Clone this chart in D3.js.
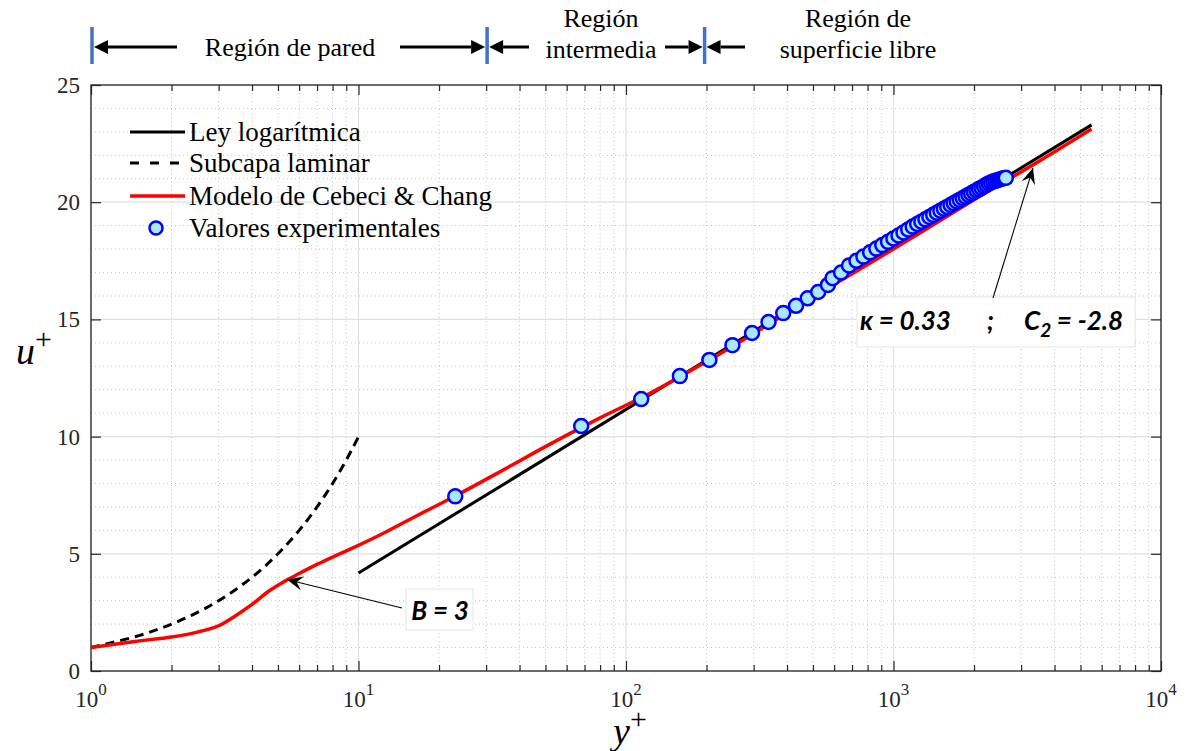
<!DOCTYPE html>
<html><head><meta charset="utf-8">
<script src="https://cdn.jsdelivr.net/npm/d3@7"></script>
<style>body{margin:0;background:#fff}svg{display:block}</style>
</head><body>
<svg id="c" width="1186" height="751"></svg>
<script>
// ---------- data ----------
const xMajor = [1, 10, 100, 1000, 10000];
const xMinor = [2,3,4,5,6,7,8,9,20,30,40,50,60,70,80,90,200,300,400,500,600,700,800,900,2000,3000,4000,5000,6000,7000,8000,9000];
const xTickExp = ["0","1","2","3","4"];
const yMajor = [0, 5, 10, 15, 20, 25];
const yMinor = [1,2,3,4,6,7,8,9,11,12,13,14,16,17,18,19,21,22,23,24];
const yTickLabels = ["0","5","10","15","20","25"];

const logLawY = [10, 5500];
const logLawU = [4.18, 23.3];

const lamY = [1,1.5,2,2.5,3,3.5,4,4.5,5,5.5,6,6.5,7,7.5,8,8.5,9,9.5,10];
const lamU = [1,1.5,2,2.5,3,3.5,4,4.5,5,5.5,6,6.5,7,7.5,8,8.5,9,9.5,10];

const ccY = [1, 1.46, 2.0, 2.5, 3.0, 3.45, 4.0, 4.6, 5.3, 6.0, 7.06, 8.0, 9.4, 12.5, 14.3, 17, 22, 33.8, 52, 80, 123, 200, 300, 500, 1000, 2000, 3500, 5500];
const ccU = [1.0, 1.26, 1.45, 1.66, 1.93, 2.34, 2.84, 3.39, 3.83, 4.16, 4.57, 4.86, 5.22, 5.9, 6.25, 6.7, 7.35, 8.5, 9.68, 10.8, 11.85, 13.2, 14.4, 15.95, 18.0, 20.1, 21.75, 23.12];

const expY = [23,68,114,159,205,250,296,341,387,432,478,523,569,592,637,682,727,772,818,863,908,954,999,1044,1090,1135,1180,1226,1271,1316,1362,1407,1452,1498,1543,1588,1634,1679,1724,1770,1815,1860,1906,1951,1996,2042,2087,2132,2178,2223,2268,2314,2359,2404,2450,2495,2540,2586,2630];
const expU = [7.45,10.45,11.6,12.58,13.27,13.9,14.42,14.89,15.27,15.58,15.9,16.17,16.47,16.76,17.0,17.3,17.5,17.68,17.86,18.02,18.17,18.31,18.45,18.58,18.71,18.84,18.96,19.07,19.17,19.27,19.37,19.46,19.55,19.64,19.72,19.8,19.88,19.96,20.03,20.1,20.17,20.24,20.31,20.37,20.44,20.5,20.56,20.62,20.68,20.74,20.8,20.84,20.88,20.91,20.94,20.97,21.0,21.02,21.04];

const regionBounds = [1, 30, 195];

// ---------- setup ----------
const svg = d3.select("#c");
const L = 91, R = 1161, T = 85, B = 671;
const x = d3.scaleLog().domain([1, 1e4]).range([L, R]);
const y = d3.scaleLinear().domain([0, 25]).range([B, T]);
const serif = "'Liberation Serif','Times New Roman',serif";
const annFont = "Lato,'Open Sans',sans-serif";

// grid
const g = svg.append("g");
g.selectAll(".gxm").data(xMinor).join("line")
  .attr("x1", d => x(d)).attr("x2", d => x(d)).attr("y1", T).attr("y2", B)
  .attr("stroke", "#c4c4c4").attr("stroke-width", 1).attr("stroke-dasharray", "1,3");
g.selectAll(".gym").data(yMinor).join("line")
  .attr("x1", L).attr("x2", R).attr("y1", d => y(d)).attr("y2", d => y(d))
  .attr("stroke", "#c4c4c4").attr("stroke-width", 1).attr("stroke-dasharray", "1,3");
g.selectAll(".gxM").data(xMajor).join("line")
  .attr("x1", d => x(d)).attr("x2", d => x(d)).attr("y1", T).attr("y2", B)
  .attr("stroke", "#e0e0e0").attr("stroke-width", 1.2);
g.selectAll(".gyM").data(yMajor).join("line")
  .attr("x1", L).attr("x2", R).attr("y1", d => y(d)).attr("y2", d => y(d))
  .attr("stroke", "#e0e0e0").attr("stroke-width", 1.2);

// axes (ticks inside)
function styleAxis(sel){ sel.selectAll("path").remove(); sel.selectAll("line").attr("stroke","#262626").attr("stroke-width",1.2); sel.selectAll("text").remove(); }
svg.append("g").attr("transform",`translate(0,${B})`).call(d3.axisBottom(x).tickValues(xMajor).tickSize(-10)).call(styleAxis);
svg.append("g").attr("transform",`translate(0,${B})`).call(d3.axisBottom(x).tickValues(xMinor).tickSize(-6)).call(styleAxis);
svg.append("g").attr("transform",`translate(0,${T})`).call(d3.axisTop(x).tickValues(xMajor).tickSize(-10)).call(styleAxis);
svg.append("g").attr("transform",`translate(0,${T})`).call(d3.axisTop(x).tickValues(xMinor).tickSize(-6)).call(styleAxis);
svg.append("g").attr("transform",`translate(${L},0)`).call(d3.axisLeft(y).tickValues(yMajor).tickSize(-10)).call(styleAxis);
svg.append("g").attr("transform",`translate(${R},0)`).call(d3.axisRight(y).tickValues(yMajor).tickSize(-10)).call(styleAxis);

// box
svg.append("rect").attr("x", L).attr("y", T).attr("width", R-L).attr("height", B-T)
  .attr("fill","none").attr("stroke","#262626").attr("stroke-width",1.3);

// tick labels
const xl = svg.append("g").attr("font-family", serif).attr("fill","#262626");
xMajor.forEach((v,i) => {
  const t = xl.append("text").attr("x", x(v)).attr("y", 707).attr("text-anchor","middle").attr("font-size", 23);
  t.append("tspan").text("10");
  t.append("tspan").attr("dy", -12).attr("font-size", 17).text(xTickExp[i]);
});
yMajor.forEach((v,i) => {
  svg.append("text").attr("x", 80).attr("y", y(v)).attr("dy","0.35em").attr("text-anchor","end")
    .attr("font-family", serif).attr("font-size", 23).attr("fill","#262626").text(yTickLabels[i]);
});

// axis titles
const xt = svg.append("text").attr("x", 630).attr("y", 744).attr("text-anchor","middle").attr("font-family", serif).attr("font-size", 38).attr("fill","#000");
xt.append("tspan").attr("font-style","italic").text("y");
xt.append("tspan").attr("dy",-15).attr("font-size",30).text("+");
const yt = svg.append("text").attr("x", 34).attr("y", 364).attr("text-anchor","middle").attr("font-family", serif).attr("font-size", 38).attr("fill","#000");
yt.append("tspan").attr("font-style","italic").text("u");
yt.append("tspan").attr("dy",-15).attr("font-size",30).text("+");

// lines
svg.append("defs").append("clipPath").attr("id","clp").append("rect").attr("x",L).attr("y",T-10).attr("width",R-L).attr("height",B-T+10);
const plot = svg.append("g").attr("clip-path","url(#clp)");
const line = d3.line().x(d => x(d[0])).y(d => y(d[1]));
const lineSmooth = d3.line().x(d => x(d[0])).y(d => y(d[1])).curve(d3.curveCatmullRom.alpha(0.5));

plot.append("path").datum(lamY.map((v,i)=>[v,lamU[i]])).attr("d", lineSmooth)
  .attr("fill","none").attr("stroke","#000").attr("stroke-width",3).attr("stroke-dasharray","9,6");
plot.append("path").datum(logLawY.map((v,i)=>[v,logLawU[i]])).attr("d", line)
  .attr("fill","none").attr("stroke","#000").attr("stroke-width",3);
plot.append("path").datum(ccY.map((v,i)=>[v,ccU[i]])).attr("d", lineSmooth)
  .attr("fill","none").attr("stroke","#ff0000").attr("stroke-width",3.5);

plot.selectAll(".pt").data(expY.map((v,i)=>[v,expU[i]])).join("circle")
  .attr("cx", d => x(d[0])).attr("cy", d => y(d[1])).attr("r", 7)
  .attr("fill","#a8e8fb").attr("stroke","#0000ff").attr("stroke-width",2.5);

// legend
const leg = svg.append("g").attr("font-family", serif).attr("font-size", 27).attr("fill","#000");
const legItems = ["Ley logarítmica","Subcapa laminar","Modelo de Cebeci & Chang","Valores experimentales"];
const legRows = [132, 163, 196, 228];
leg.append("line").attr("x1",130).attr("x2",185).attr("y1",legRows[0]).attr("y2",legRows[0]).attr("stroke","#000").attr("stroke-width",3);
leg.append("line").attr("x1",130).attr("x2",185).attr("y1",legRows[1]).attr("y2",legRows[1]).attr("stroke","#000").attr("stroke-width",3).attr("stroke-dasharray","9,11");
leg.append("line").attr("x1",130).attr("x2",185).attr("y1",legRows[2]).attr("y2",legRows[2]).attr("stroke","#ff0000").attr("stroke-width",3.5);
leg.append("circle").attr("cx",156).attr("cy",legRows[3]).attr("r",6.5).attr("fill","#a8e8fb").attr("stroke","#0000ff").attr("stroke-width",2.5);
legItems.forEach((s,i)=>{
  leg.append("text").attr("x",189).attr("y",legRows[i]).attr("dy","0.33em").text(s);
});

// annotation arrows (thin with notched head)
function annArrow(x1,y1,x2,y2){
  svg.append("line").attr("x1",x1).attr("y1",y1).attr("x2",x2).attr("y2",y2).attr("stroke","#000").attr("stroke-width",1.1);
  const a = Math.atan2(y2-y1, x2-x1), len=16, w=7, notch=10;
  const p = (d,o)=>[x2 - d*Math.cos(a) - o*Math.sin(a), y2 - d*Math.sin(a) + o*Math.cos(a)];
  svg.append("path").attr("d", "M"+[x2,y2]+"L"+p(len,w)+"L"+p(notch,0)+"L"+p(len,-w)+"Z").attr("fill","#000");
}
// B = 3
svg.append("rect").attr("x",406).attr("y",589).attr("width",67).attr("height",41).attr("fill","#fff").attr("stroke","#e6e6e6");
annArrow(402, 608, x(5.4), y(3.9));
svg.append("text").attr("x",440).attr("y",611).attr("dy","0.35em").attr("text-anchor","middle")
  .attr("font-family",annFont).attr("font-weight","bold").attr("font-style","italic").attr("font-size",26).text("B = 3");
// kappa
svg.append("rect").attr("x",857).attr("y",297).attr("width",278).attr("height",50).attr("fill","#fff").attr("stroke","#e6e6e6");
annArrow(993, 298, 1033, 168);
const kt = svg.append("text").attr("x",860).attr("y",330).attr("font-family",annFont).attr("font-weight","bold").attr("font-style","italic").attr("font-size",26);
kt.append("tspan").text("κ = 0.33");
kt.append("tspan").attr("x",987).text(";");
kt.append("tspan").attr("x",1024).text("C");
kt.append("tspan").attr("dy",7).attr("font-size",19).text("2");
kt.append("tspan").attr("dy",-7).text(" = -2.8");

// header regions
const hdr = svg.append("g");
regionBounds.forEach(v=>{
  hdr.append("line").attr("x1",x(v)+1).attr("x2",x(v)+1).attr("y1",27).attr("y2",64).attr("stroke","#4472c4").attr("stroke-width",3.5);
});
function hArrow(x1,x2,yy){
  const dir = Math.sign(x2-x1), hl=14, hw=7;
  hdr.append("line").attr("x1",x1).attr("x2",x2-dir*hl).attr("y1",yy).attr("y2",yy).attr("stroke","#000").attr("stroke-width",3);
  hdr.append("path").attr("d",`M${x2},${yy}L${x2-dir*hl},${yy-hw}L${x2-dir*hl},${yy+hw}Z`).attr("fill","#000");
}
const hy = 47;
hArrow(177, x(1)+3, hy);
hArrow(400, x(30)-1, hy);
hArrow(529, x(30)+3, hy);
hArrow(665, x(195)-1, hy);
hArrow(745, x(195)+3, hy);
const ht = svg.append("g").attr("font-family",serif).attr("font-size",26).attr("fill","#000").attr("text-anchor","middle");
ht.append("text").attr("x",290).attr("y",56).text("Región de pared");
ht.append("text").attr("x",601).attr("y",27).text("Región");
ht.append("text").attr("x",601).attr("y",58).text("intermedia");
ht.append("text").attr("x",858).attr("y",27).text("Región de");
ht.append("text").attr("x",858).attr("y",58).text("superficie libre");
</script>
</body></html>
